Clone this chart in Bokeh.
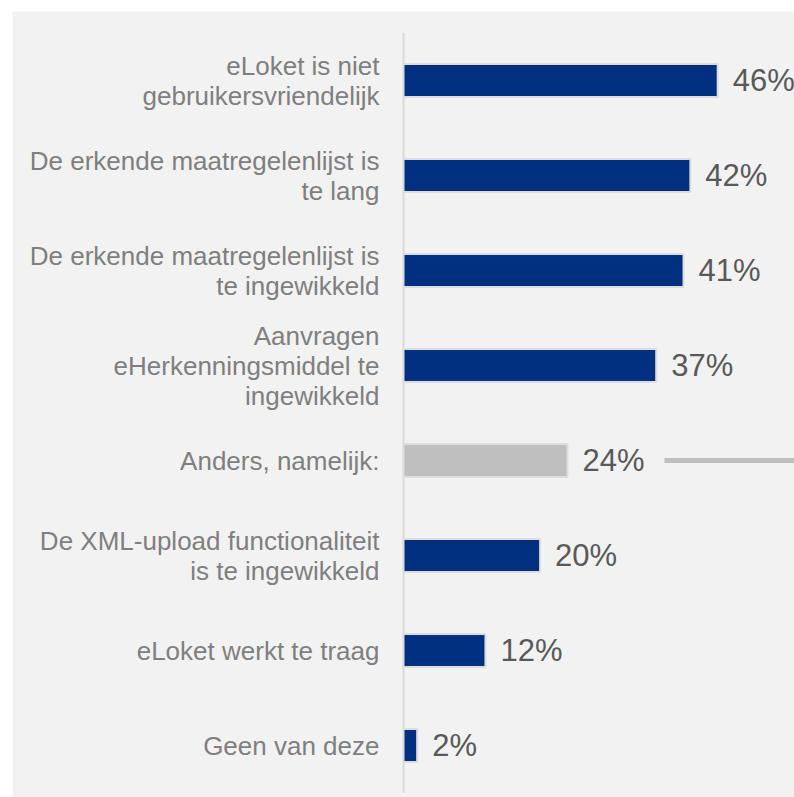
from bokeh.plotting import figure
from bokeh.models import Range1d, ColumnDataSource
from bokeh.core.properties import value
from bokeh.embed import file_html
from bokeh.resources import INLINE

categories = [
    "eLoket is niet\ngebruikersvriendelijk",
    "De erkende maatregelenlijst is\nte lang",
    "De erkende maatregelenlijst is\nte ingewikkeld",
    "Aanvragen\neHerkenningsmiddel te\ningewikkeld",
    "Anders, namelijk:",
    "De XML-upload functionaliteit\nis te ingewikkeld",
    "eLoket werkt te traag",
    "Geen van deze",
]
values = [46, 42, 41, 37, 24, 20, 12, 2]
highlight = "Anders, namelijk:"

BLUE = "#00307f"
GREY = "#bfbfbf"
pos = list(range(len(categories)))
colors = [GREY if c == highlight else BLUE for c in categories]
labels = [f"{v}%" for v in values]

src = ColumnDataSource(dict(y=pos, v=values, cat=categories, col=colors, lab=labels,
                            zero=[0] * len(values)))

px_per = 6.83
W, H = 782, 786
x0_px = 391
row_px = 95
first_px = 69

p = figure(width=W, height=H, output_backend="svg", toolbar_location=None,
           x_range=Range1d(-x0_px / px_per, (W - x0_px) / px_per),
           y_range=Range1d((H - first_px) / row_px, -first_px / row_px),
           min_border=0)
p.margin = (11, 0, 0, 12)
p.axis.visible = False
p.grid.visible = False
p.outline_line_color = None
p.background_fill_color = "#f2f2f2"
p.border_fill_color = "#f2f2f2"

# axis line
p.segment(x0=[0], x1=[0], y0=[-0.5], y1=[len(categories) - 0.5],
          line_color="#d9d9d9", line_width=2)

p.hbar(y="y", left=0, right="v", height=0.347, fill_color="col",
       line_color="#dddddd", line_width=2, source=src)

# category labels
p.text(x="zero", y="y", text="cat", source=src, x_offset=-24,
       text_align="right", text_baseline="middle",
       text_font=value("Liberation Sans"), text_font_size="26px",
       text_color="#7f7f7f", text_line_height=1.0)

# value labels
p.text(x="v", y="y", text="lab", source=src, x_offset=15,
       text_align="left", text_baseline="middle",
       text_font=value("Liberation Sans"), text_font_size="31px",
       text_color="#595959")

# leader line for the "Anders" row
hi = categories.index(highlight)
p.segment(x0=[values[hi] + 14.2], x1=[values[hi] + 40], y0=[hi], y1=[hi],
          line_color=GREY, line_width=5)

open("out.html", "w").write(file_html(p, INLINE))
